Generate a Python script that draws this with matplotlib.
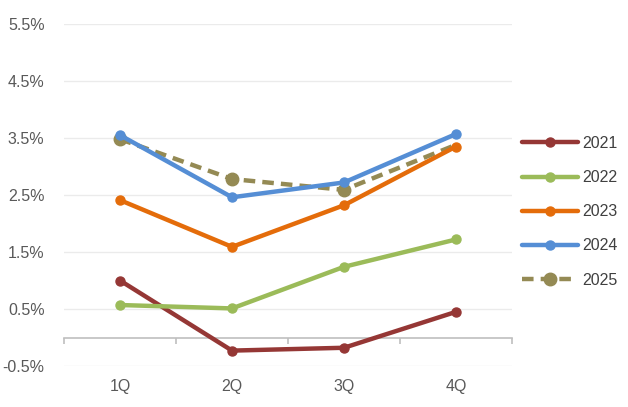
import matplotlib
matplotlib.use("Agg")
import matplotlib.pyplot as plt
from matplotlib.ticker import FixedLocator, FuncFormatter

quarters = ["1Q", "2Q", "3Q", "4Q"]
years = ["2021", "2022", "2023", "2024", "2025"]
v2021 = [1.00, -0.23, -0.18, 0.45]
v2022 = [0.57, 0.51, 1.24, 1.72]
v2023 = [2.41, 1.59, 2.32, 3.35]
v2024 = [3.55, 2.46, 2.72, 3.57]
v2025 = [3.48, 2.78, 2.59, 3.38]
yticks = [-0.5, 0.5, 1.5, 2.5, 3.5, 4.5, 5.5]

colors = ["#953735", "#9BBB59", "#E46C0A", "#558ED5", "#948A54"]
series = [v2021, v2022, v2023, v2024, v2025]

plt.rcParams['font.family'] = ['Liberation Sans', 'DejaVu Sans']
fig = plt.figure(figsize=(6.28, 4.07), dpi=100)
ax = fig.add_axes([64/628, 1-366/407, (512-64)/628, (366-24)/407])

x = list(range(len(quarters)))
for i, (name, vals, c) in enumerate(zip(years, series, colors)):
    if name == "2025":
        ax.plot(x, vals, color=c, lw=3.2, ls=(0, (2.6, 1.6)), marker='o', ms=9,
                markevery=[0, 1, 2], label=name, zorder=2.5)
    else:
        ax.plot(x, vals, color=c, lw=3.2, marker='o', ms=6.5, label=name, zorder=3,
                solid_capstyle='round')

ax.set_xlim(-0.5, len(quarters) - 0.5)
ax.set_ylim(yticks[0], yticks[-1])
ax.set_yticks(yticks)
ax.yaxis.set_major_formatter(FuncFormatter(lambda v, p: f"{v:.1f}%"))
ax.grid(axis='y', color='#EBEBEB', lw=1)
ax.set_axisbelow(True)
for s in ['top', 'right', 'left']:
    ax.spines[s].set_visible(False)
ax.spines['bottom'].set_position(('data', 0))
ax.spines['bottom'].set_color('#BFBFBF')
ax.spines['bottom'].set_linewidth(1.2)
ax.tick_params(axis='y', length=0, pad=14, labelsize=11.5, labelcolor='#595959')
ax.xaxis.set_major_locator(FixedLocator([i - 0.5 for i in range(len(quarters) + 1)]))
ax.xaxis.set_major_formatter(FuncFormatter(lambda v, p: ""))
ax.xaxis.set_minor_locator(FixedLocator(x))
ax.set_xticklabels(quarters, minor=True)
ax.tick_params(axis='x', which='major', length=4, color='#BFBFBF', width=1.2)
ax.tick_params(axis='x', which='minor', length=0, pad=30, labelsize=11.5, labelcolor='#595959')

leg = fig.legend(loc='upper left', bbox_to_anchor=(522/628, 1-136/407), frameon=False,
                 fontsize=11.5, labelcolor='#404040', handlelength=3.5, labelspacing=1.2,
                 handletextpad=0.25, borderpad=0, borderaxespad=0)
fig.savefig("out.png", dpi=100)
